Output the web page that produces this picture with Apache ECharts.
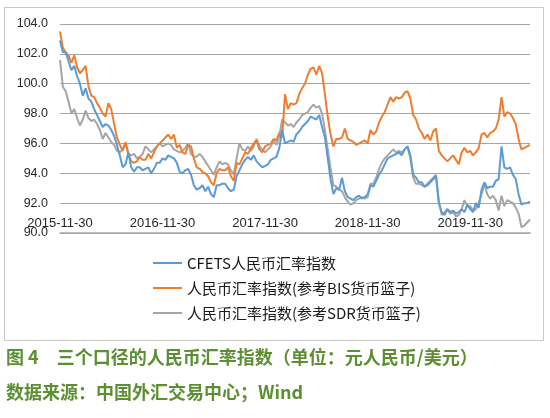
<!DOCTYPE html>
<html><head><meta charset="utf-8">
<script src="https://cdn.jsdelivr.net/npm/echarts@6/dist/echarts.min.js"></script>
<style>html,body{margin:0;padding:0;background:#fff}#c{width:550px;height:418px}</style>
</head><body><div id="c"></div>
<script>
// Series values (roughly every 10 days from 2015-11-30 to 2020-06-30)
var cfets = [102.9,102.1,102.1,101.5,100.9,101.2,100.5,100.0,99.2,99.7,
99.0,98.8,98.3,97.9,97.5,97.1,97.3,97.2,96.9,96.5,
95.9,95.2,94.4,94.6,95.4,94.4,94.1,94.4,94.4,94.2,
94.3,94.4,94.0,94.3,94.7,94.7,95.0,94.9,95.2,95.1,
95.0,94.7,94.1,94.0,94.2,94.3,93.9,93.2,92.9,93.0,
93.2,92.8,93.1,92.6,92.4,93.2,93.2,93.3,93.3,93.0,
92.8,92.9,93.8,94.2,94.6,94.9,95.1,94.9,95.2,94.8,
94.6,94.4,94.5,94.6,94.9,95.0,95.1,95.7,96.9,96.0,
96.1,96.2,96.1,96.6,96.8,97.1,97.3,97.5,97.8,97.7,
97.6,97.9,97.1,96.4,95.0,93.6,92.6,93.0,92.9,93.7,
92.8,92.4,92.3,92.2,92.4,92.5,92.3,92.4,92.6,93.2,
93.1,93.5,93.9,94.2,94.6,95.0,95.1,95.2,95.3,95.4,
95.2,95.6,95.8,95.2,93.9,93.7,93.4,93.4,93.1,93.2,
93.4,93.6,93.8,92.0,91.4,91.2,91.6,91.4,91.5,91.3,
91.4,91.6,91.4,91.9,91.6,91.4,92.0,91.7,92.9,93.4,
93.0,93.1,93.1,93.5,93.6,95.8,94.4,94.3,94.4,93.9,
93.6,92.6,91.9,92.0,92.0,92.1];
var bis = [103.5,102.4,102.1,101.9,101.4,101.9,101.1,100.7,100.9,101.2,
99.8,99.2,99.1,98.7,98.4,98.0,97.8,98.7,98.3,97.3,
96.4,95.9,95.5,96.1,95.3,94.8,94.7,94.8,95.1,94.9,
94.9,95.3,95.0,95.4,95.8,96.0,96.2,96.4,96.6,96.3,
96.6,95.7,95.9,95.4,95.3,95.9,95.8,95.0,94.4,94.3,
94.1,94.0,93.8,93.4,93.2,94.0,94.3,94.2,94.2,94.4,
93.8,93.5,94.7,94.6,95.0,95.4,95.3,95.7,96.0,96.2,
95.6,95.4,95.8,95.9,96.0,96.3,96.2,96.7,96.4,99.3,
98.3,98.7,98.6,98.7,99.3,99.7,100.0,100.6,101.0,101.1,
100.6,101.2,100.7,99.3,97.8,96.6,95.8,96.3,96.3,96.4,
97.0,96.3,96.2,96.1,95.9,96.0,96.1,96.2,96.0,96.9,
96.6,96.8,97.4,97.8,98.1,98.6,99.1,98.8,99.1,99.0,
99.1,99.4,99.5,99.0,97.9,97.6,97.0,96.7,96.3,96.6,
96.2,96.8,97.0,95.5,95.2,95.0,94.8,95.0,95.2,94.9,
94.6,95.4,95.7,95.4,95.5,95.2,95.4,95.7,96.6,96.7,
96.4,96.7,96.8,97.0,97.6,99.1,97.8,98.1,98.0,97.7,
97.3,96.3,95.6,95.7,95.8,95.9];
var sdr = [101.6,99.8,99.5,98.8,98.0,98.3,97.7,97.2,97.6,98.2,
97.7,97.5,97.6,97.3,96.9,96.3,96.7,96.4,96.1,95.9,
95.5,95.4,95.6,96.0,95.3,95.2,95.3,95.0,95.1,95.3,
95.8,95.6,95.4,95.6,95.8,96.0,95.8,95.9,96.0,95.9,
95.6,95.5,95.4,95.5,95.7,96.0,95.3,95.1,95.1,95.3,
95.1,94.8,94.5,94.2,93.9,94.4,94.8,94.6,94.7,94.6,
94.2,93.9,95.0,96.0,95.6,95.5,95.8,95.5,95.8,96.3,
95.8,95.6,95.4,95.6,95.8,96.2,95.9,96.5,97.6,97.4,
97.2,97.3,97.1,97.4,97.6,97.9,98.0,98.1,98.4,98.6,
98.4,98.5,98.0,96.9,95.6,94.3,93.2,93.1,92.9,92.8,
92.4,92.1,91.9,92.0,92.2,92.3,92.4,92.3,92.4,93.3,
93.3,93.7,94.3,94.7,95.0,95.2,95.4,95.6,95.4,95.5,
95.4,95.6,95.8,95.0,93.7,93.3,93.3,93.2,93.1,93.3,
93.5,93.7,93.9,92.1,91.2,91.4,91.6,91.3,91.4,91.1,
91.2,91.6,92.2,91.8,91.8,91.5,91.6,92.0,92.6,93.3,
92.6,92.3,92.5,92.2,91.5,92.5,91.8,92.2,92.1,92.0,
91.7,91.3,90.4,90.5,90.7,90.9];
var seriesNames = ['CFETS人民币汇率指数','人民币汇率指数(参考BIS货币篮子)','人民币汇率指数(参考SDR货币篮子)'];
var yTicks = [90,92,94,96,98,100,102,104];
var caption1 = '图 4　三个口径的人民币汇率指数（单位：元人民币/美元）';
var caption2 = '数据来源：中国外汇交易中心；Wind';

// category dates: 2015-11-30, then the 10th, 20th and last (30th / 28th) of each month
var categories = ['2015-11-30'];
(function(){
  var y = 2015, m = 12;
  while (categories.length < cfets.length) {
    var mm = (m < 10 ? '0' : '') + m;
    var last = (m === 2) ? '28' : '30';
    [ '10', '20', last ].forEach(function(d){
      if (categories.length < cfets.length) categories.push(y + '-' + mm + '-' + d);
    });
    m++; if (m > 12) { m = 1; y++; }
  }
})();

var chart = echarts.init(document.getElementById('c'), null, {renderer:'canvas'});
var colors = ['#5b9bd5','#ed7d31','#a5a5a5'];
chart.setOption({
  animation:false,
  color: colors,
  grid:{left:60, right:20, top:24, bottom:185, containLabel:false},
  xAxis:{
    type:'category', data:categories, boundaryGap:false,
    axisLine:{show:true, lineStyle:{color:'#a6a6a6', width:1.5}},
    axisTick:{show:false},
    axisLabel:{
      inside:true, margin:3, color:'#262626', fontSize:13,
      fontFamily:'Liberation Sans, Arial, sans-serif',
      interval:function(i, v){ return /-11-30$/.test(v); }
    },
    splitLine:{show:false}
  },
  yAxis:{
    type:'value', min:yTicks[0], max:yTicks[yTicks.length-1], interval:2,
    axisLine:{show:false}, axisTick:{show:false},
    axisLabel:{margin:12, color:'#262626', fontSize:12.5,
      fontFamily:'Liberation Sans, Arial, sans-serif',
      formatter:function(v){ return v.toFixed(1); }},
    splitLine:{lineStyle:{color:'#a6a6a6', width:1}}
  },
  legend:{
    orient:'vertical', left:148, top:250,
    icon:'rect', itemWidth:29, itemHeight:2, itemGap:9,
    data: seriesNames,
    textStyle:{fontSize:15, lineHeight:16, color:'#1a1a1a', fontFamily:'Noto Sans CJK SC'}
  },
  series:[
    {name:seriesNames[0], type:'line', data:cfets, symbol:'none', lineStyle:{width:2}, z:3},
    {name:seriesNames[1], type:'line', data:bis, symbol:'none', lineStyle:{width:2}, z:2},
    {name:seriesNames[2], type:'line', data:sdr, symbol:'none', lineStyle:{width:2}, z:1}
  ],
  graphic:[
    {type:'rect', shape:{x:4.5, y:7.5, width:539, height:333}, style:{fill:'none', stroke:'#c8c8c8', lineWidth:1}, silent:true},
    {type:'text', left:6, top:348, style:{text:caption1, fill:'#5c8f32', font:'bold 18px "Noto Sans CJK SC"'}},
    {type:'text', left:6, top:383, style:{text:caption2, fill:'#5c8f32', font:'bold 18px "Noto Sans CJK SC"'}}
  ]
});
</script></body></html>
